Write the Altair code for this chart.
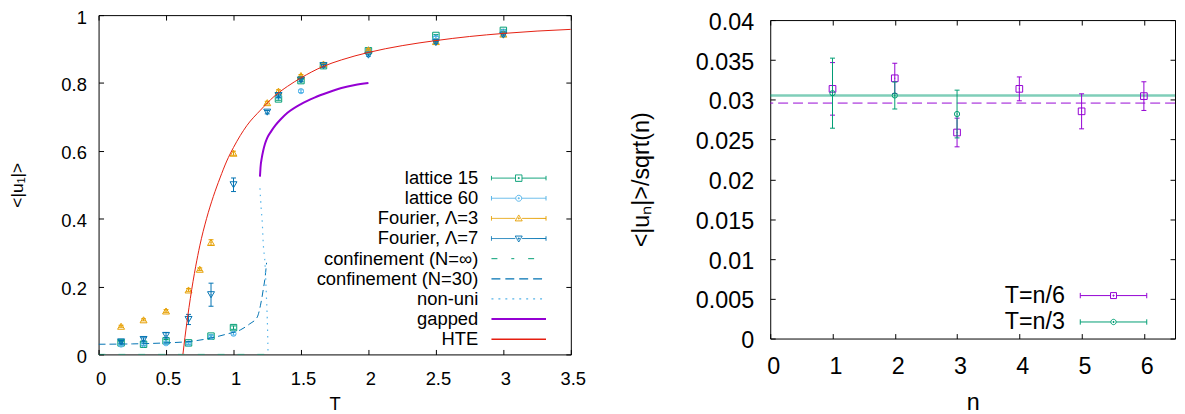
import altair as alt
import pandas as pd

FONT = "Liberation Sans"
FS_L = 18.5
FS_R = 23.5

# ---------------- left panel data ----------------
T_lat = [1/6, 1/3, 1/2, 2/3, 5/6, 1.0, 4/3, 3/2, 5/3, 2.0, 2.5, 3.0]
lat15 = [0.034, 0.030, 0.040, 0.034, 0.054, 0.079, 0.753, 0.807, 0.851, 0.895, 0.940, 0.955]
lat15_err = [0.004, 0.004, 0.004, 0.004, 0.004, 0.005, 0.004, 0.004, 0.003, 0.003, 0.003, 0.003]
lat60 = [0.029, 0.030, 0.033, 0.032, 0.052, 0.061, 0.760, 0.776, 0.853, 0.897, 0.934, 0.951]
lat60_err = [0.003, 0.003, 0.003, 0.003, 0.003, 0.004, 0.004, 0.004, 0.003, 0.003, 0.003, 0.003]

T_f3 = [1/6, 1/3, 1/2, 2/3, 3/4, 5/6, 1.0, 5/4, 4/3, 3/2, 5/3, 2.0, 2.5, 3.0]
f3 = [0.083, 0.102, 0.128, 0.190, 0.251, 0.330, 0.593, 0.742, 0.776, 0.822, 0.856, 0.898, 0.922, 0.944]
f3_err = [0.003, 0.003, 0.004, 0.004, 0.004, 0.008, 0.006, 0.004, 0.004, 0.003, 0.003, 0.003, 0.003, 0.003]

T_f7 = [1/6, 1/3, 1/2, 2/3, 5/6, 1.0, 5/4, 4/3, 3/2, 5/3, 2.0, 2.5, 3.0]
f7 = [0.037, 0.044, 0.056, 0.103, 0.176, 0.500, 0.714, 0.763, 0.809, 0.851, 0.882, 0.919, 0.941]
f7_err = [0.004, 0.005, 0.008, 0.015, 0.034, 0.020, 0.005, 0.005, 0.004, 0.004, 0.003, 0.003, 0.003]

T_inf = [0.0, 1.25]
v_inf = [0.0, 0.0]

T_n30 = [0.0, 0.25, 0.5, 0.67, 0.83, 0.95, 1.05, 1.12, 1.176, 1.20, 1.22, 1.235, 1.245]
v_n30 = [0.030, 0.031, 0.034, 0.038, 0.048, 0.060, 0.072, 0.090, 0.110, 0.145, 0.190, 0.230, 0.270]

T_nu = [1.196, 1.205, 1.213, 1.22, 1.233, 1.245, 1.252, 1.256]
v_nu = [0.49, 0.43, 0.39, 0.33, 0.27, 0.16, 0.08, 0.0]

T_gap = [1.196, 1.20, 1.21, 1.22, 1.233, 1.25, 1.28, 1.31, 1.35, 1.40, 1.5, 1.6, 1.7, 1.8, 1.9, 2.0]
v_gap = [0.524, 0.55, 0.58, 0.60, 0.62, 0.638, 0.658, 0.675, 0.693, 0.712, 0.738, 0.757, 0.772, 0.785, 0.794, 0.80]

T_hte = [0.625, 0.64, 0.66, 0.68, 0.70, 0.72, 0.75, 0.80, 0.85, 0.90, 0.95, 1.0, 1.1, 1.2, 1.3,
         1.4, 1.5, 1.66, 1.8, 2.0, 2.25, 2.5, 2.75, 3.0, 3.25, 3.5]
v_hte = [0.0, 0.05, 0.11, 0.165, 0.215, 0.26, 0.32, 0.40, 0.465, 0.52, 0.57, 0.61, 0.675, 0.72, 0.76,
         0.79, 0.815, 0.848, 0.868, 0.89, 0.91, 0.925, 0.937, 0.946, 0.953, 0.958]

names_L = ["lattice 15", "lattice 60", "Fourier, Λ=3", "Fourier, Λ=7", "confinement (N=∞)",
           "confinement (N=30)", "non-uni", "gapped", "HTE"]
colors_L = ["#009e73", "#56b4e9", "#e69f00", "#0072b2", "#009e73", "#0072b2", "#56b4e9", "#9400d3", "#e51e10"]

xticks_L = [0, 0.5, 1, 1.5, 2, 2.5, 3, 3.5]
yticks_L = [0, 0.2, 0.4, 0.6, 0.8, 1]

# ---------------- right panel data ----------------
n6 = [1, 2, 3, 4, 5, 6]
u6 = [0.03136, 0.03269, 0.02588, 0.03136, 0.02854, 0.03045]
u6_err = [0.0033, 0.0019, 0.0018, 0.0015, 0.0022, 0.0018]
n3 = [1, 2, 3]
u3 = [0.03082, 0.03053, 0.02820]
u3_err = [0.0044, 0.0017, 0.0030]
fit6 = [0.02957]
fit3 = [0.03053]

names_R = ["T=n/6", "T=n/3"]
colors_R = ["#9400d3", "#009e73"]

xticks_R = [0, 1, 2, 3, 4, 5, 6]
yticks_R = [0, 0.005, 0.01, 0.015, 0.02, 0.025, 0.03, 0.035, 0.04]


# ---------------- helpers ----------------
def main_axis(orient, values, fs, lpad, ext, title, tpad, tfs, loff):
    return alt.Axis(orient=orient, values=values, format="~g", grid=False, domain=True,
                    domainColor="black", domainWidth=1, ticks=False, tickSize=0, labels=True,
                    labelFont=FONT, labelFontSize=fs, labelColor="black", labelPadding=lpad,
                    labelOffset=loff, labelFlush=False, labelOverlap=False, minExtent=ext, maxExtent=ext,
                    title=title, titleFont=FONT, titleFontSize=tfs, titleFontWeight="normal",
                    titleColor="black", titlePadding=tpad, offset=0)


def tick_axis(orient, values, off):
    return alt.Axis(orient=orient, values=values, grid=False, domain=False, ticks=True,
                    tickSize=5, tickColor="black", tickWidth=1, labels=False, title=None, offset=off)


def border_axis(orient, off):
    return alt.Axis(orient=orient, grid=False, domain=True, domainColor="black", domainWidth=1,
                    ticks=False, tickSize=0, labels=False, title=None, offset=off)


def series(x, v, e, color, shape, size, xsc, ysc, cap, pt_axes=(None, None), rule_axes=(None, None)):
    df = pd.DataFrame({"x": x, "v": v, "e": e})
    base = alt.Chart(df).transform_calculate(lo="datum.v - datum.e", hi="datum.v + datum.e")
    rule = base.mark_rule(color=color, strokeWidth=1).encode(
        x=alt.X("x:Q", scale=xsc, axis=rule_axes[0]),
        y=alt.Y("lo:Q", scale=ysc, axis=rule_axes[1]), y2="hi:Q")
    t_lo = base.mark_tick(orient="horizontal", size=cap, thickness=1, color=color, opacity=1).encode(
        x=alt.X("x:Q", scale=xsc, axis=None), y=alt.Y("lo:Q", scale=ysc, axis=None))
    t_hi = base.mark_tick(orient="horizontal", size=cap, thickness=1, color=color, opacity=1).encode(
        x=alt.X("x:Q", scale=xsc, axis=None), y=alt.Y("hi:Q", scale=ysc, axis=None))
    pt = base.mark_point(shape=shape, size=size, filled=False, color=color, strokeWidth=1, opacity=1).encode(
        x=alt.X("x:Q", scale=xsc, axis=pt_axes[0]), y=alt.Y("v:Q", scale=ysc, axis=pt_axes[1]))
    dot = base.mark_point(shape="square", size=1, filled=True, color=color, opacity=1).encode(
        x=alt.X("x:Q", scale=xsc, axis=None), y=alt.Y("v:Q", scale=ysc, axis=None))
    return [rule, t_lo, t_hi, pt, dot]


def curve(x, v, color, width, xsc, ysc, dash=None):
    df = pd.DataFrame({"x": x, "v": v})
    kw = dict(color=color, strokeWidth=width, clip=True, interpolate="monotone")
    if dash is not None:
        kw["strokeDash"] = dash
    return alt.Chart(df).mark_line(**kw).encode(
        x=alt.X("x:Q", scale=xsc, axis=None), y=alt.Y("v:Q", scale=ysc, axis=None))


def ebar_path(L, cap, g, marker):
    return (f"M{-L},0H{-g}M{g},0H{L}M{-L},{-cap}V{cap}M{L},{-cap}V{cap}" + marker +
            "M-0.1,-0.1H0.1V0.1H-0.1Z")


def sq(r):
    return f"M{-r},{-r}H{r}V{r}H{-r}Z"


def circ(r):
    return f"M{r},0A{r},{r},0,1,1,{-r},0A{r},{r},0,1,1,{r},0"


TRI_UP = "M-0.7,0.5L0,-0.7L0.7,0.5Z"
TRI_DN = "M-0.7,-0.5L0,0.7L0.7,-0.5Z"
LINE_L = "M-5.5,0H5.5"

paths_L = [ebar_path(5.5, 0.45, 0.65, sq(0.65)), ebar_path(5.5, 0.45, 0.6, circ(0.6)),
           ebar_path(5.5, 0.45, 0.7, TRI_UP), ebar_path(5.5, 0.45, 0.7, TRI_DN),
           LINE_L, LINE_L, LINE_L, LINE_L, LINE_L]
dash_L = [[1, 0], [1, 0], [1, 0], [1, 0], [6, 14, 3, 14], [9, 5], [2, 5], [1, 0], [1, 0]]
width_L = [1, 1, 1, 1, 1, 1.2, 1.2, 2, 1.3]

paths_R = [ebar_path(6.7, 0.54, 0.6, sq(0.6)), ebar_path(6.7, 0.54, 0.54, circ(0.54))]

# ---------------- left panel ----------------
xsL = alt.Scale(domain=[0, 3.5], nice=False, zero=False)
ysL = alt.Scale(domain=[0, 1], nice=False, zero=False)

B1L = main_axis("bottom", xticks_L, FS_L, 15.3, 35, "T", 5.9, FS_L, 2)
L1L = main_axis("left", yticks_L, FS_L, 12.3, 50, "<|u₁|>", 23, 17.5, 2)

layers_L = []
layers_L += series(T_lat, lat15, lat15_err, colors_L[0], "square", 42, xsL, ysL, 5,
                   pt_axes=(B1L, L1L), rule_axes=(border_axis("top", 0), border_axis("right", 0)))
layers_L += series(T_lat, lat60, lat60_err, colors_L[1], "circle", 28, xsL, ysL, 5,
                   pt_axes=(tick_axis("bottom", xticks_L, -5), tick_axis("left", yticks_L, -5)),
                   rule_axes=(tick_axis("top", xticks_L, -5), tick_axis("right", yticks_L, -5)))
layers_L += series(T_f3, f3, f3_err, colors_L[2], "triangle-up", 49, xsL, ysL, 5)
layers_L += series(T_f7, f7, f7_err, colors_L[3], "triangle-down", 49, xsL, ysL, 5)
layers_L.append(curve(T_inf, v_inf, colors_L[4], 1, xsL, ysL, dash=[7, 13]))
layers_L.append(curve(T_n30, v_n30, colors_L[5], 1, xsL, ysL, dash=[7, 4]))
layers_L.append(curve(T_nu, v_nu, colors_L[6], 1.2, xsL, ysL, dash=[1.5, 5]))
layers_L.append(curve(T_gap, v_gap, colors_L[7], 2, xsL, ysL))
layers_L.append(curve(T_hte, v_hte, colors_L[8], 1, xsL, ysL))

leg_L = alt.Legend(title=None, orient="none", legendX=414.25, legendY=155.05, direction="vertical",
                   columns=1, padding=0, rowPadding=1.3, symbolSize=100, symbolOpacity=1,
                   labelAlign="right", labelOffset={"expr": "-50.05"}, labelFont=FONT,
                   labelFontSize=FS_L, labelColor="black", labelLimit=400)
dummy_L = alt.Chart(pd.DataFrame({"series": names_L})).mark_point(opacity=0, filled=False).encode(
    color=alt.Color("series:N", scale=alt.Scale(domain=names_L, range=colors_L), legend=leg_L),
    shape=alt.Shape("series:N", scale=alt.Scale(domain=names_L, range=paths_L), legend=leg_L),
    strokeDash=alt.StrokeDash("series:N", scale=alt.Scale(domain=names_L, range=dash_L), legend=leg_L),
    strokeWidth=alt.StrokeWidth("series:N", scale=alt.Scale(type="ordinal", domain=names_L, range=width_L),
                                legend=leg_L),
)
layers_L.append(dummy_L)

left = alt.layer(*layers_L).resolve_axis(x="independent", y="independent").properties(width=476, height=342)

# ---------------- right panel ----------------
xsR = alt.Scale(domain=[0, 6.5], nice=False, zero=False)
ysR = alt.Scale(domain=[0, 0.04], range=[326, 5], nice=False, zero=False)

B1R = main_axis("bottom", xticks_R, FS_R, 16.6, 40, "n", 12.6, FS_R, 3)
L1R = main_axis("left", yticks_R, FS_R, 16.7, 80, "<|uₙ|>/sqrt(n)", 38.2, FS_R, 2.3)

layers_R = []
layers_R.append(alt.Chart(pd.DataFrame({"v": fit3})).mark_rule(
    color=colors_R[1], strokeWidth=2.6, opacity=0.5).encode(y=alt.Y("v:Q", scale=ysR, axis=None)))
layers_R.append(alt.Chart(pd.DataFrame({"v": fit6})).mark_rule(
    color=colors_R[0], strokeWidth=2, opacity=0.55, strokeDash=[10, 5]).encode(y=alt.Y("v:Q", scale=ysR, axis=None)))
layers_R += series(n6, u6, u6_err, colors_R[0], "square", 45, xsR, ysR, 5,
                   pt_axes=(B1R, L1R), rule_axes=(border_axis("top", -5), border_axis("right", 0)))
layers_R += series(n3, u3, u3_err, colors_R[1], "circle", 28, xsR, ysR, 5,
                   pt_axes=(tick_axis("bottom", xticks_R, -5), tick_axis("left", yticks_R, -5)),
                   rule_axes=(tick_axis("top", xticks_R, -10), tick_axis("right", yticks_R, -5)))

leg_R = alt.Legend(title=None, orient="none", legendX=334.25, legendY=270.95, direction="vertical",
                   columns=1, padding=0, rowPadding=1.6, symbolSize=100, symbolOpacity=1,
                   symbolStrokeWidth=1, labelAlign="right", labelOffset={"expr": "-60.75"},
                   labelFont=FONT, labelFontSize=FS_R, labelColor="black", labelLimit=400)
dummy_R = alt.Chart(pd.DataFrame({"series2": names_R})).mark_point(opacity=0, filled=False).encode(
    color=alt.Color("series2:N", scale=alt.Scale(domain=names_R, range=colors_R), legend=leg_R),
    shape=alt.Shape("series2:N", scale=alt.Scale(domain=names_R, range=paths_R), legend=leg_R),
)
layers_R.append(dummy_R)

right = alt.layer(*layers_R).resolve_axis(x="independent", y="independent").properties(width=408, height=326)

chart = alt.hconcat(left, right, spacing=201, bounds="flush").resolve_scale(
    color="independent", shape="independent", strokeDash="independent", strokeWidth="independent"
).resolve_legend(
    color="independent", shape="independent", strokeDash="independent", strokeWidth="independent"
).properties(
    padding={"left": 0.3, "top": -1.45, "right": 0, "bottom": 0}
).configure_view(stroke=None)

chart.save("out.html", embed_options={"renderer": "svg", "actions": False})
